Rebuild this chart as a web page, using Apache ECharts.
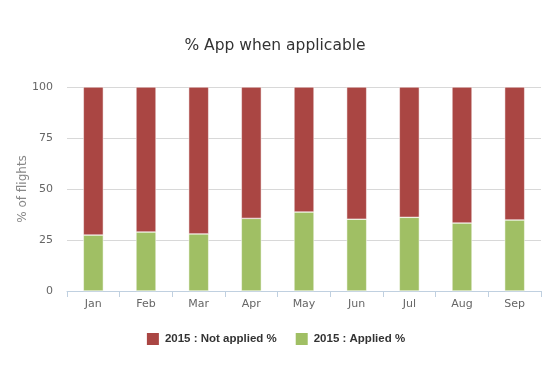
<!DOCTYPE html>
<html>
<head>
<meta charset="utf-8">
<script src="https://cdn.jsdelivr.net/npm/echarts@6/dist/echarts.min.js"></script>
<style>html,body{margin:0;padding:0;background:#fff}#c{width:550px;height:367px}</style>
</head>
<body>
<div id="c"></div>
<script>
var categories = ['Jan','Feb','Mar','Apr','May','Jun','Jul','Aug','Sep'];
var applied = [27.4, 28.9, 28.0, 35.6, 38.7, 35.2, 36.1, 33.3, 34.8];
var notApplied = [72.6, 71.1, 72.0, 64.4, 61.3, 64.8, 63.9, 66.7, 65.2];
var yTicks = [0, 25, 50, 75, 100];
var seriesNames = ['2015 : Not applied %', '2015 : Applied %'];
var titleText = '% App when applicable';
var yName = '% of flights';

var font = '"DejaVu Sans", "Lucida Grande", sans-serif';
var chart = echarts.init(document.getElementById('c'), null, {renderer: 'canvas'});
chart.setOption({
  animation: false,
  title: {
    text: titleText, left: 'center', top: 33,
    textStyle: {fontFamily: font, fontSize: 15.5, fontWeight: 'normal', color: '#333'}
  },
  legend: {
    data: seriesNames, top: 326, left: 'center',
    itemWidth: 14, itemHeight: 14, itemGap: 17,
    icon: 'rect',
    textStyle: {fontFamily: '"Liberation Sans", Arial, sans-serif', fontSize: 11.5, fontWeight: 'bold', color: '#333'}
  },
  grid: {left: 67, right: 9, top: 87, bottom: 76, containLabel: false},
  xAxis: {
    type: 'category', data: categories,
    axisLine: {lineStyle: {color: '#c0d0e0'}},
    axisTick: {show: true, alignWithLabel: false, length: 6, lineStyle: {color: '#c0d0e0'}},
    axisLabel: {fontFamily: font, fontSize: 11, color: '#666', margin: 8}
  },
  yAxis: {
    type: 'value', min: yTicks[0], max: yTicks[yTicks.length-1], interval: 25,
    name: yName, nameLocation: 'middle', nameGap: 38, nameMoveOverlap: false,
    nameTextStyle: {fontFamily: font, fontSize: 12, color: '#888'},
    axisLine: {show: false}, axisTick: {show: false},
    splitLine: {lineStyle: {color: '#d8d8d8'}},
    axisLabel: {fontFamily: font, fontSize: 11, color: '#666', margin: 14, padding: [0, 0, 3, 0]}
  },
  series: [
    {name: seriesNames[1], type: 'bar', stack: 's', data: applied, barWidth: 20,
     itemStyle: {color: '#a0bf64', borderColor: '#fff', borderWidth: 0.5}},
    {name: seriesNames[0], type: 'bar', stack: 's', data: notApplied, barWidth: 20,
     itemStyle: {color: '#aa4643', borderColor: '#fff', borderWidth: 0.5}}
  ]
});
</script>
</body>
</html>
